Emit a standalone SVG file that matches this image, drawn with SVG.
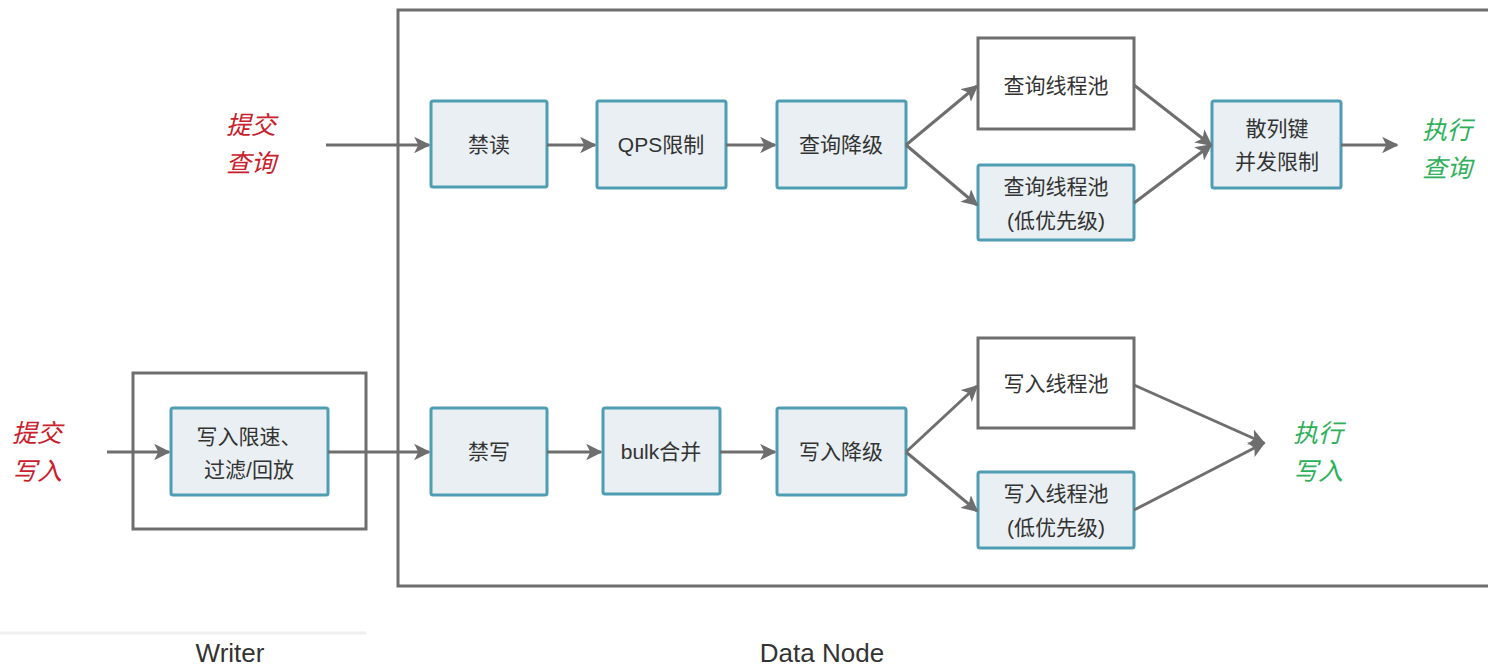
<svg xmlns="http://www.w3.org/2000/svg" width="1488" height="666" viewBox="0 0 1488 666">
<style>
.frame{fill:none;stroke:#6e6e6e;stroke-width:3}
.blue{fill:#e9eff2;stroke:#4f9db3;stroke-width:3}
.white{fill:#ffffff;stroke:#6e6e6e;stroke-width:3}
.t{font-family:"Liberation Sans","Noto Sans CJK SC",sans-serif;font-size:21px;fill:#333;text-anchor:middle}
.lab{font-family:"Liberation Sans","Noto Sans CJK SC",sans-serif;font-size:26px;fill:#333;text-anchor:middle}
.red{font-family:"Noto Sans CJK SC",sans-serif;font-size:25px;font-style:italic;fill:#c8202c;text-anchor:middle}
.green{font-family:"Noto Sans CJK SC",sans-serif;font-size:25px;font-style:italic;fill:#2eb05a;text-anchor:middle}
.c{fill:none;stroke:#6e6e6e;stroke-width:3;marker-end:url(#ah)}
</style>
<defs>
<marker id="ah" viewBox="0 0 10 10" refX="9" refY="5" markerWidth="5.5" markerHeight="5.5" orient="auto" markerUnits="strokeWidth">
<path d="M0,0 L10,5 L0,10 L2.5,5 Z" fill="#6e6e6e"/>
</marker>
</defs>
<rect width="1488" height="666" fill="#fff"/>
<line x1="0" y1="633" x2="366" y2="633" stroke="#f0f0f0" stroke-width="3"/>
<g id="datanode"><rect class="frame" x="398" y="10" width="1100" height="576"/><text class="lab" x="822" y="662">Data Node</text></g>
<g id="writer"><rect class="frame" x="133" y="373" width="233" height="156"/><text class="lab" x="230" y="662">Writer</text></g>
<g id="submit-query"><text class="red" x="251" y="134">提交</text><text class="red" x="251" y="172">查询</text></g>
<g id="submit-write"><text class="red" x="37" y="442">提交</text><text class="red" x="37" y="480">写入</text></g>
<g id="exec-query"><text class="green" x="1447" y="139">执行</text><text class="green" x="1447" y="177">查询</text></g>
<g id="exec-write"><text class="green" x="1318" y="442">执行</text><text class="green" x="1318" y="480">写入</text></g>
<g id="n-rate"><rect class="blue" x="171" y="408" width="157" height="87" rx="2"/><text class="t" x="249" y="444">写入限速、</text><text class="t" x="249" y="477">过滤/回放</text></g>
<g id="n-noread"><rect class="blue" x="431" y="101" width="116" height="86" rx="2"/><text class="t" x="489" y="152">禁读</text></g>
<g id="n-qps"><rect class="blue" x="597" y="101" width="129" height="87" rx="2"/><text class="t" x="661" y="152">QPS限制</text></g>
<g id="n-qdeg"><rect class="blue" x="777" y="101" width="129" height="87" rx="2"/><text class="t" x="841" y="152">查询降级</text></g>
<g id="n-qpool"><rect class="white" x="978" y="38" width="156" height="91"/><text class="t" x="1056" y="93">查询线程池</text></g>
<g id="n-qpool-low"><rect class="blue" x="978" y="165" width="156" height="75" rx="2"/><text class="t" x="1056" y="194">查询线程池</text><text class="t" x="1056" y="228">(低优先级)</text></g>
<g id="n-hash"><rect class="blue" x="1212" y="101" width="129" height="87" rx="2"/><text class="t" x="1277" y="136">散列键</text><text class="t" x="1277" y="169">并发限制</text></g>
<g id="n-nowrite"><rect class="blue" x="431" y="408" width="116" height="87" rx="2"/><text class="t" x="489" y="459">禁写</text></g>
<g id="n-bulk"><rect class="blue" x="603" y="408" width="117" height="86" rx="2"/><text class="t" x="661" y="459">bulk合并</text></g>
<g id="n-wdeg"><rect class="blue" x="777" y="408" width="129" height="87" rx="2"/><text class="t" x="841" y="459">写入降级</text></g>
<g id="n-wpool"><rect class="white" x="978" y="338" width="156" height="90"/><text class="t" x="1056" y="391">写入线程池</text></g>
<g id="n-wpool-low"><rect class="blue" x="978" y="472" width="156" height="76" rx="2"/><text class="t" x="1056" y="501">写入线程池</text><text class="t" x="1056" y="535">(低优先级)</text></g>
<g id="connectors">
<line class="c" x1="326" y1="145" x2="429" y2="145"/>
<line class="c" x1="547" y1="145" x2="595" y2="145"/>
<line class="c" x1="726" y1="145" x2="775" y2="145"/>
<line class="c" x1="906" y1="145" x2="977" y2="86"/>
<line class="c" x1="906" y1="145" x2="977" y2="205"/>
<line class="c" x1="1134" y1="85" x2="1211" y2="145"/>
<line class="c" x1="1134" y1="203" x2="1211" y2="145"/>
<line class="c" x1="1341" y1="145" x2="1397" y2="145"/>
<line class="c" x1="107" y1="452" x2="169" y2="452"/>
<line class="c" x1="328" y1="452" x2="429" y2="452"/>
<line class="c" x1="547" y1="452" x2="601" y2="452"/>
<line class="c" x1="720" y1="452" x2="775" y2="452"/>
<line class="c" x1="906" y1="452" x2="977" y2="386"/>
<line class="c" x1="906" y1="452" x2="977" y2="511"/>
<line class="c" x1="1134" y1="385" x2="1264" y2="443"/>
<line class="c" x1="1134" y1="510" x2="1264" y2="443"/>
</g>
</svg>
